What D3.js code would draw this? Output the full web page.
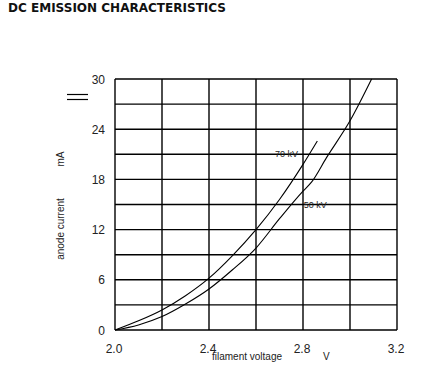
<!DOCTYPE html>
<html>
<head>
<meta charset="utf-8">
<script src="https://cdn.jsdelivr.net/npm/d3@7/dist/d3.min.js"></script>
<style>
  html, body { margin: 0; padding: 0; background: #fff; }
  svg { display: block; }
</style>
</head>
<body>
<svg id="chart" width="425" height="371"></svg>
<script>
// ---- data ----
const xTicks = [2.0, 2.2, 2.4, 2.6, 2.8, 3.0, 3.2];
const xTickLabels = ["2.0", "2.4", "2.8", "3.2"];
const yTicks = [0, 3, 6, 9, 12, 15, 18, 21, 24, 27, 30];
const yTickLabels = [0, 6, 12, 18, 24, 30];

const v70 = [2.0, 2.1, 2.2, 2.3, 2.4, 2.5, 2.6, 2.7, 2.8, 2.861];
const i70 = [0, 1.1, 2.4, 4.1, 6.2, 8.9, 12.0, 15.6, 19.8, 22.6];

const v50 = [2.0, 2.1, 2.2, 2.3, 2.4, 2.5, 2.6, 2.7, 2.8, 2.837, 2.9, 3.0, 3.092];
const i50 = [0, 0.6, 1.6, 3.1, 4.9, 7.2, 9.8, 13.3, 16.6, 17.7, 20.6, 25.0, 30.0];

const seriesLabels = ["70 kV", "50 kV"];
const labelV = [2.681, 2.803];
const labelI = [20.7, 14.6];

// ---- layout ----
const svg = d3.select("#chart");
const x = d3.scaleLinear().domain([2.0, 3.2]).range([115, 397]);
const y = d3.scaleLinear().domain([0, 30]).range([330, 79]);

// title
svg.append("text")
  .attr("x", 8).attr("y", 12)
  .attr("font-family", "DejaVu Sans, Verdana, sans-serif")
  .attr("font-weight", "bold")
  .attr("font-size", 11.5)
  .attr("textLength", 218)
  .attr("lengthAdjust", "spacingAndGlyphs")
  .attr("fill", "#111")
  .text("DC EMISSION CHARACTERISTICS");

// grid
const grid = svg.append("g").attr("stroke", "#000").attr("stroke-width", 1.4);
grid.selectAll("line.v").data(xTicks).enter().append("line")
  .attr("x1", d => x(d)).attr("x2", d => x(d))
  .attr("y1", y(0)).attr("y2", y(30));
grid.selectAll("line.h").data(yTicks).enter().append("line")
  .attr("x1", x(2.0)).attr("x2", x(3.2))
  .attr("y1", d => y(d)).attr("y2", d => y(d));

// tick labels
const fam = "Liberation Sans, Arial, sans-serif";
svg.append("g").selectAll("text").data(yTickLabels).enter().append("text")
  .attr("x", 105).attr("y", d => y(d) + 4.5)
  .attr("text-anchor", "end")
  .attr("font-family", fam).attr("font-size", 12).attr("fill", "#222")
  .text(d => d);
svg.append("g").selectAll("text").data(xTickLabels).enter().append("text")
  .attr("x", d => x(+d) - 1).attr("y", 353)
  .attr("text-anchor", "middle")
  .attr("font-family", fam).attr("font-size", 12).attr("fill", "#222")
  .text(d => d);

// axis titles
svg.append("text").attr("x", 212).attr("y", 360)
  .attr("font-family", fam).attr("font-size", 10).attr("fill", "#222")
  .text("filament voltage");
svg.append("text").attr("x", 323).attr("y", 360)
  .attr("font-family", fam).attr("font-size", 10).attr("fill", "#222")
  .text("V");
svg.append("text").attr("transform", "translate(64,229) rotate(-90)")
  .attr("text-anchor", "middle")
  .attr("font-family", fam).attr("font-size", 10).attr("fill", "#222")
  .text("anode current");
svg.append("text").attr("transform", "translate(64,159) rotate(-90)")
  .attr("text-anchor", "middle")
  .attr("font-family", fam).attr("font-size", 10).attr("fill", "#222")
  .text("mA");

// double bar symbol
svg.append("line").attr("x1", 67).attr("x2", 88).attr("y1", 94.5).attr("y2", 94.5)
  .attr("stroke", "#000").attr("stroke-width", 1.2);
svg.append("line").attr("x1", 67).attr("x2", 88).attr("y1", 99.5).attr("y2", 99.5)
  .attr("stroke", "#000").attr("stroke-width", 1.2);

// curves
const line = d3.line().x(d => x(d[0])).y(d => y(d[1])).curve(d3.curveMonotoneX);
const series = [d3.zip(v70, i70), d3.zip(v50, i50)];
svg.append("g").selectAll("path").data(series).enter().append("path")
  .attr("d", line)
  .attr("fill", "none").attr("stroke", "#000").attr("stroke-width", 1.1);

// series labels
svg.append("g").selectAll("text").data(seriesLabels).enter().append("text")
  .attr("x", (d, i) => x(labelV[i])).attr("y", (d, i) => y(labelI[i]))
  .attr("font-family", fam).attr("font-size", 9).attr("fill", "#222")
  .text(d => d);
</script>
</body>
</html>
